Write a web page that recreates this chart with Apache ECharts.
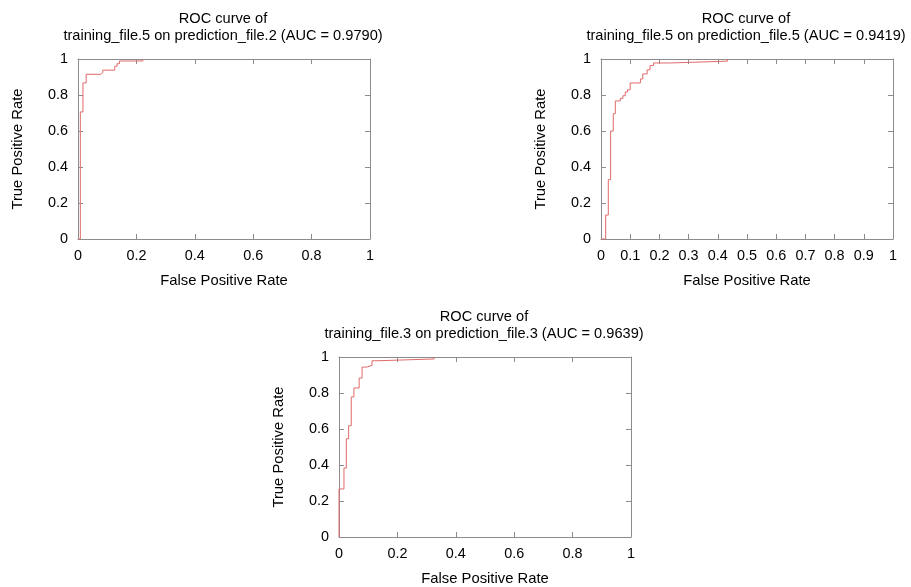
<!DOCTYPE html>
<html>
<head>
<meta charset="utf-8">
<script src="https://cdn.jsdelivr.net/npm/echarts@6/dist/echarts.min.js"></script>
<style>
  html, body { margin: 0; padding: 0; background: #fff; }
  #chart { width: 911px; height: 587px; }
</style>
</head>
<body>
<div id="chart"></div>
<script>
// ROC step curves (false positive rate / true positive rate)
const fpr1 = [0, 0.008, 0.017, 0.028, 0.078, 0.085, 0.126, 0.134, 0.142, 0.222];
const tpr1 = [0, 0.706, 0.867, 0.915, 0.925, 0.938, 0.960, 0.974, 0.989, 1];

const fpr2 = [0, 0.016, 0.025, 0.033, 0.042, 0.049, 0.066, 0.075, 0.083, 0.091, 0.100, 0.135, 0.143, 0.158, 0.168, 0.180, 0.238, 0.433];
const tpr2 = [0, 0.133, 0.330, 0.600, 0.696, 0.767, 0.781, 0.796, 0.817, 0.829, 0.867, 0.889, 0.917, 0.940, 0.964, 0.978, 0.988, 1];

const fpr3 = [0, 0, 0.017, 0.025, 0.033, 0.042, 0.051, 0.069, 0.079, 0.095, 0.113, 0.130, 0.326];
const tpr3 = [0, 0.267, 0.383, 0.546, 0.618, 0.778, 0.828, 0.883, 0.944, 0.953, 0.979, 0.989, 1];

const titles = [
    'ROC curve of\ntraining_file.5 on prediction_file.2 (AUC = 0.9790)',
    'ROC curve of\ntraining_file.5 on prediction_file.5 (AUC = 0.9419)',
    'ROC curve of\ntraining_file.3 on prediction_file.3 (AUC = 0.9639)'
];
const xStep = [0.2, 0.1, 0.2];
const xName = 'False Positive Rate';
const yName = 'True Positive Rate';

const FONT = 'Liberation Sans, Arial, sans-serif';
const AXIS_GREY = '#8c8c8c';

const grids = [
    { left: 78, top: 59, width: 292, height: 180 },
    { left: 601, top: 59, width: 292, height: 180 },
    { left: 339, top: 357, width: 292, height: 180 }
];

// each new point: run right at the old rate, then climb
function stepPoints(xs, ys) {
    const out = [[xs[0], ys[0]]];
    for (let i = 1; i < xs.length; i++) {
        out.push([xs[i], ys[i - 1]]);
        out.push([xs[i], ys[i]]);
    }
    return out;
}
const curves = [stepPoints(fpr1, tpr1), stepPoints(fpr2, tpr2), stepPoints(fpr3, tpr3)];

const xAxis = [];
const yAxis = [];
const title = [];
const series = [];

grids.forEach((g, i) => {
    const base = {
        type: 'value',
        gridIndex: i,
        min: 0,
        max: 1,
        splitLine: { show: false },
        axisLine: { show: true, onZero: false, lineStyle: { color: AXIS_GREY, width: 1 } },
        axisTick: { show: true, inside: true, length: 5, lineStyle: { color: AXIS_GREY } }
    };
    xAxis.push(Object.assign({}, base, {
        position: 'bottom',
        interval: xStep[i],
        name: xName,
        nameLocation: 'middle',
        nameGap: 34,
        nameTextStyle: { color: '#000', fontSize: 14.8, fontFamily: FONT },
        axisLabel: { color: '#000', fontSize: 14.4, fontFamily: FONT, margin: 10 }
    }));
    xAxis.push(Object.assign({}, base, {
        position: 'top',
        interval: xStep[i],
        axisLabel: { show: false }
    }));
    yAxis.push(Object.assign({}, base, {
        position: 'left',
        interval: 0.2,
        name: yName,
        nameLocation: 'middle',
        nameGap: 53,
        nameTextStyle: { color: '#000', fontSize: 14.8, fontFamily: FONT },
        axisLabel: { color: '#000', fontSize: 14.4, fontFamily: FONT, margin: 10 }
    }));
    yAxis.push(Object.assign({}, base, {
        position: 'right',
        interval: 0.2,
        axisLabel: { show: false }
    }));
    title.push({
        text: titles[i],
        left: g.left + g.width / 2 - 6,
        top: g.top - 54,
        textAlign: 'center',
        textStyle: {
            color: '#000',
            fontSize: 14.6,
            fontWeight: 'normal',
            fontFamily: FONT,
            lineHeight: 17
        }
    });
    series.push({
        type: 'line',
        xAxisIndex: i * 2,
        yAxisIndex: i * 2,
        showSymbol: false,
        lineStyle: { color: '#e06a6a', width: 1 },
        data: curves[i],
        z: 3
    });
});

const chart = echarts.init(document.getElementById('chart'));
chart.setOption({
    animation: false,
    backgroundColor: '#fff',
    textStyle: { fontFamily: FONT },
    title: title,
    grid: grids,
    xAxis: xAxis,
    yAxis: yAxis,
    series: series
});
</script>
</body>
</html>
